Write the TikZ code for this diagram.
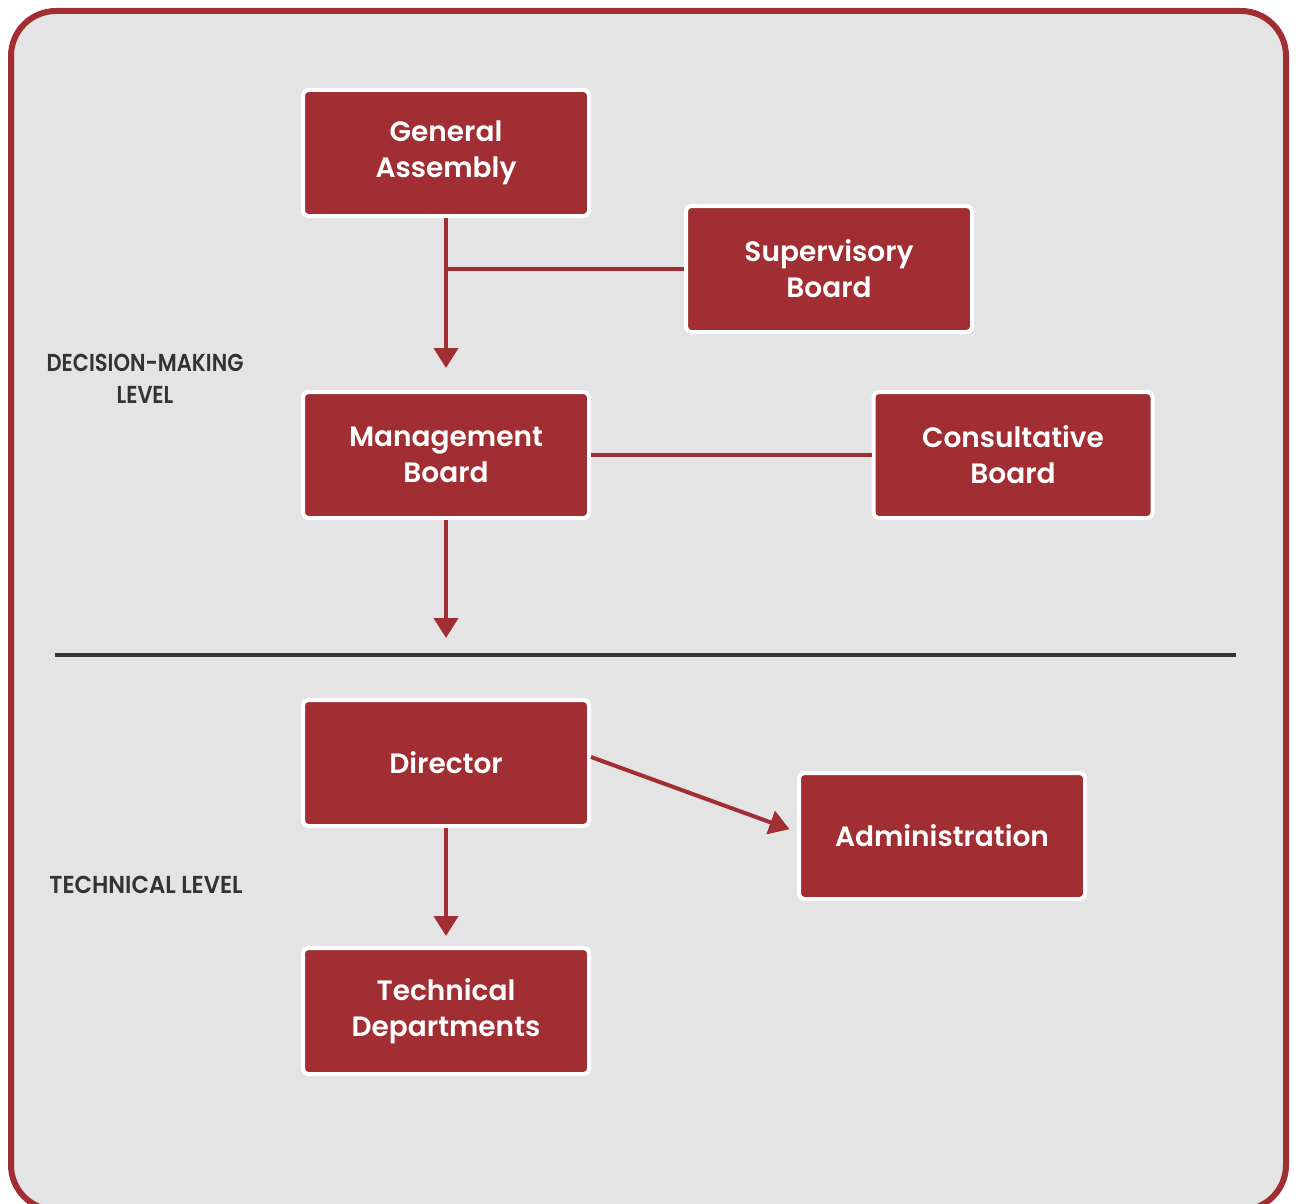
\documentclass[tikz,border=0pt]{standalone}
\usepackage{fontspec}
\setmainfont{Poppins}[BoldFont={Poppins SemiBold}]
\usetikzlibrary{arrows.meta,calc}
\definecolor{boxred}{HTML}{A02E32}
\definecolor{panelgray}{HTML}{E4E4E4}
\definecolor{darktext}{HTML}{333333}
\tikzset{
  orgbox/.style={draw=white, line width=4pt, fill=boxred, rounded corners=5pt,
    minimum width=286pt, minimum height=126pt, align=center, text=white,
    font=\fontsize{28}{36}\selectfont\bfseries},
  link/.style={draw=boxred, line width=4pt},
  flow/.style={link, -{Triangle[width=24pt,length=20pt]}},
  levellabel/.style={align=center, text=darktext,
    font=\fontsize{24.5}{32}\selectfont\bfseries}
}
\begin{document}
\begin{tikzpicture}[x=1pt,y=-1pt]
  \useasboundingbox (0,0) rectangle (1298,1204);
  \fill[white] (0,0) rectangle (1298,1204);
  \begin{scope}
    \clip (0,0) rectangle (1298,1204);
    \draw[draw=boxred, fill=panelgray, line width=6pt, rounded corners=45pt]
      (11,11) rectangle (1286,1210);
  \end{scope}

  % level labels and separator
  \node[levellabel, xscale=0.86] (decision) at (145,379) {DECISION-MAKING\\LEVEL};
  \node[levellabel, xscale=0.93] (technical) at (146,885) {TECHNICAL LEVEL};
  \coordinate (sepL) at (55,655);
  \coordinate (sepR) at (1236,655);
  \draw[darktext, line width=4pt] (sepL) -- (sepR);

  % boxes
  \node[orgbox] (ga)  at (446,153)  {General\\Assembly};
  \node[orgbox] (sup) at (829,269)  {Supervisory\\Board};
  \node[orgbox] (mb)  at (446,455)  {Management\\Board};
  \node[orgbox, minimum width=279pt] (cb) at (1013,455) {Consultative\\Board};
  \node[orgbox] (dir) at (446,763)  {Director};
  \node[orgbox] (adm) at (942,836)  {Administration};
  \node[orgbox] (tech) at (446,1011) {Technical\\Departments};

  % connectors
  \coordinate (gaEnd) at (446,368);
  \coordinate (mbEnd) at (446,638);
  \draw[flow] (ga.south) -- (gaEnd);
  \draw[link] (ga.south |- sup.west) -- (sup.west);
  \draw[link] (mb.east) -- (cb.west);
  \draw[flow] (mb.south) -- (mbEnd);
  \draw[flow] (dir.south) -- ($(tech.north)+(0,-10)$);
  \draw[flow, shorten >=8pt] ($(dir.east)+(0,-6)$) -- ($(adm.west)+(0,-4)$);
\end{tikzpicture}
\end{document}
